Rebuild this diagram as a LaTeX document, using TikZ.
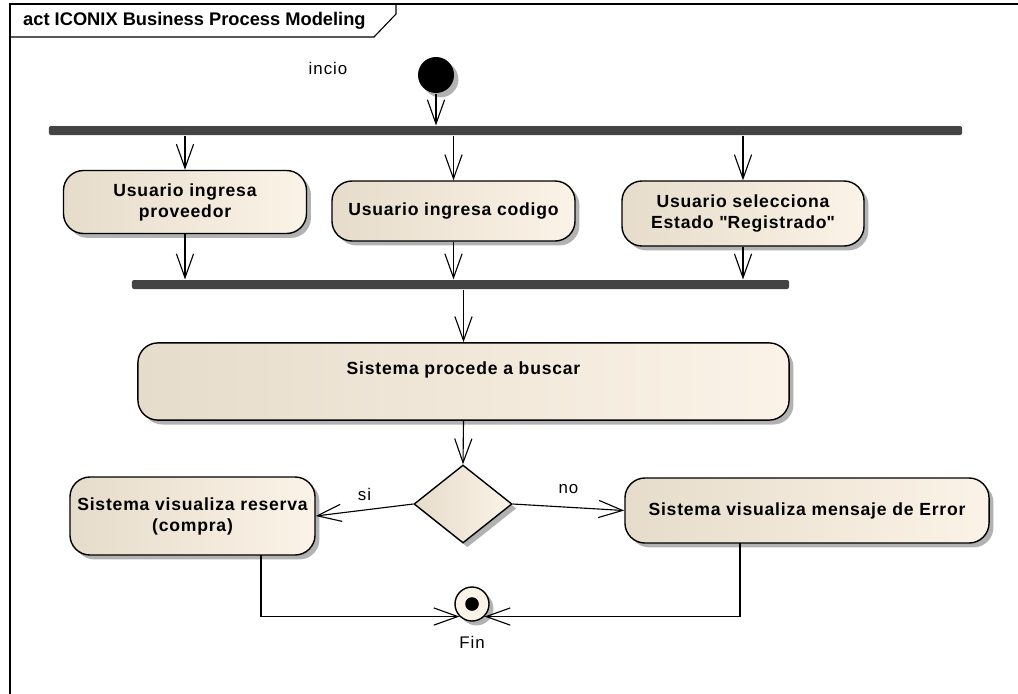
\documentclass[tikz,border=0pt]{standalone}
\usepackage{fontspec}
\setmainfont{Liberation Sans}
\usetikzlibrary{arrows.meta,shapes.geometric,shadows}
\definecolor{actL}{HTML}{E6DCCB}
\definecolor{actR}{HTML}{FBF3E7}
\definecolor{barc}{HTML}{444444}

\begin{document}
\begin{tikzpicture}[x=0.025cm,y=-0.025cm,>={Straight Barb[length=6mm,width=4.3mm]},
   line width=0.8pt,
   shd/.style={drop shadow={shadow xshift=0.11cm,shadow yshift=-0.11cm,fill=black!30,opacity=1}},
   act/.style={rectangle,draw,line width=1pt,rounded corners=0.5cm,left color=actL,right color=actR,
     shd,align=center,font=\bfseries\fontsize{12.5}{15}\selectfont\addfontfeatures{LetterSpace=4.5},inner sep=2pt},
   bar/.style={rectangle,fill=barc,rounded corners=1.5pt,minimum height=0.225cm,inner sep=0pt},
   lbl/.style={font=\fontsize{12}{14}\selectfont\addfontfeatures{LetterSpace=6}}]
  \useasboundingbox (0,0) rectangle (1018,693);
  % frame
  \draw (10,700) -- (10,4) -- (1030,4);
  \draw (10,37) -- (374,37) -- (396,14) -- (396,4);
  \node[anchor=west,font=\bfseries\fontsize{13}{15}\selectfont] (title) at (18,21) {act ICONIX Business Process Modeling};
  % start
  \node[circle,fill=black,minimum size=0.9cm,inner sep=0pt,shd] (ini) at (436,75) {};
  \node[lbl] (inilbl) at (328,68) {incio};
  \node[bar,minimum width=22.825cm] (fork1) at (505.5,130.5) {};
  \node[act,minimum width=6.075cm,minimum height=1.575cm] (a1) at (185,202) {Usuario ingresa\\proveedor};
  \node[act,minimum width=6.075cm,minimum height=1.5cm] (a2) at (453.5,211) {Usuario ingresa codigo};
  \node[act,minimum width=6.05cm,minimum height=1.625cm] (a3) at (743,213.5) {Usuario selecciona\\Estado \textquotedbl Registrado\textquotedbl};
  \node[bar,minimum width=16.425cm] (join1) at (460.5,284.5) {};
  \node[act,minimum width=16.275cm,minimum height=1.925cm,inner ysep=0pt,text height=0.78cm,text depth=1.15cm] (a4) at (463.5,381.5) {Sistema procede a buscar};
  \node[diamond,draw,line width=1pt,left color=actL,right color=actR,shd,minimum width=2.45cm,minimum height=1.95cm,inner sep=0pt] (dec) at (463,504) {};
  \node[act,minimum width=6.125cm,minimum height=1.95cm] (a5) at (192.5,516) {Sistema visualiza reserva\\(compra)};
  \node[act,minimum width=9.1cm,minimum height=1.625cm] (a6) at (807,510.5) {Sistema visualiza mensaje de Error};
  % end
  \node[circle,draw,line width=1pt,fill=actR,minimum size=0.85cm,inner sep=0pt,shd] (fin) at (472,604) {};
  \fill (fin.center) circle[radius=0.17cm];
  \node[lbl] (finlbl) at (472,642) {Fin};
  % flows
  \draw[->] (ini) -- (ini |- fork1.north);
  \draw[->] (a1.north |- fork1.south) -- (a1.north);
  \draw[->] (a2.north |- fork1.south) -- (a2.north);
  \draw[->] (a3.north |- fork1.south) -- (a3.north);
  \draw[->] (a1.south) -- (a1.south |- join1.north);
  \draw[->] (a2.south) -- (a2.south |- join1.north);
  \draw[->] (a3.south) -- (a3.south |- join1.north);
  \draw[->] (a4.north |- join1.south) -- (a4.north);
  \draw[->] (a4.south) -- (dec.north);
  \draw[->] (dec.west) -- (a5.east) node[lbl,midway,above=3pt]{si};
  \draw[->] (dec.east) -- (a6.west) node[lbl,midway,above=6pt]{no};
  \coordinate (a5out) at (261,555);
  \coordinate (a6out) at (740,543);
  \draw[->] (a5out) |- (fin.south west);
  \draw[->] (a6out) |- (fin.south east);
\end{tikzpicture}
\end{document}
